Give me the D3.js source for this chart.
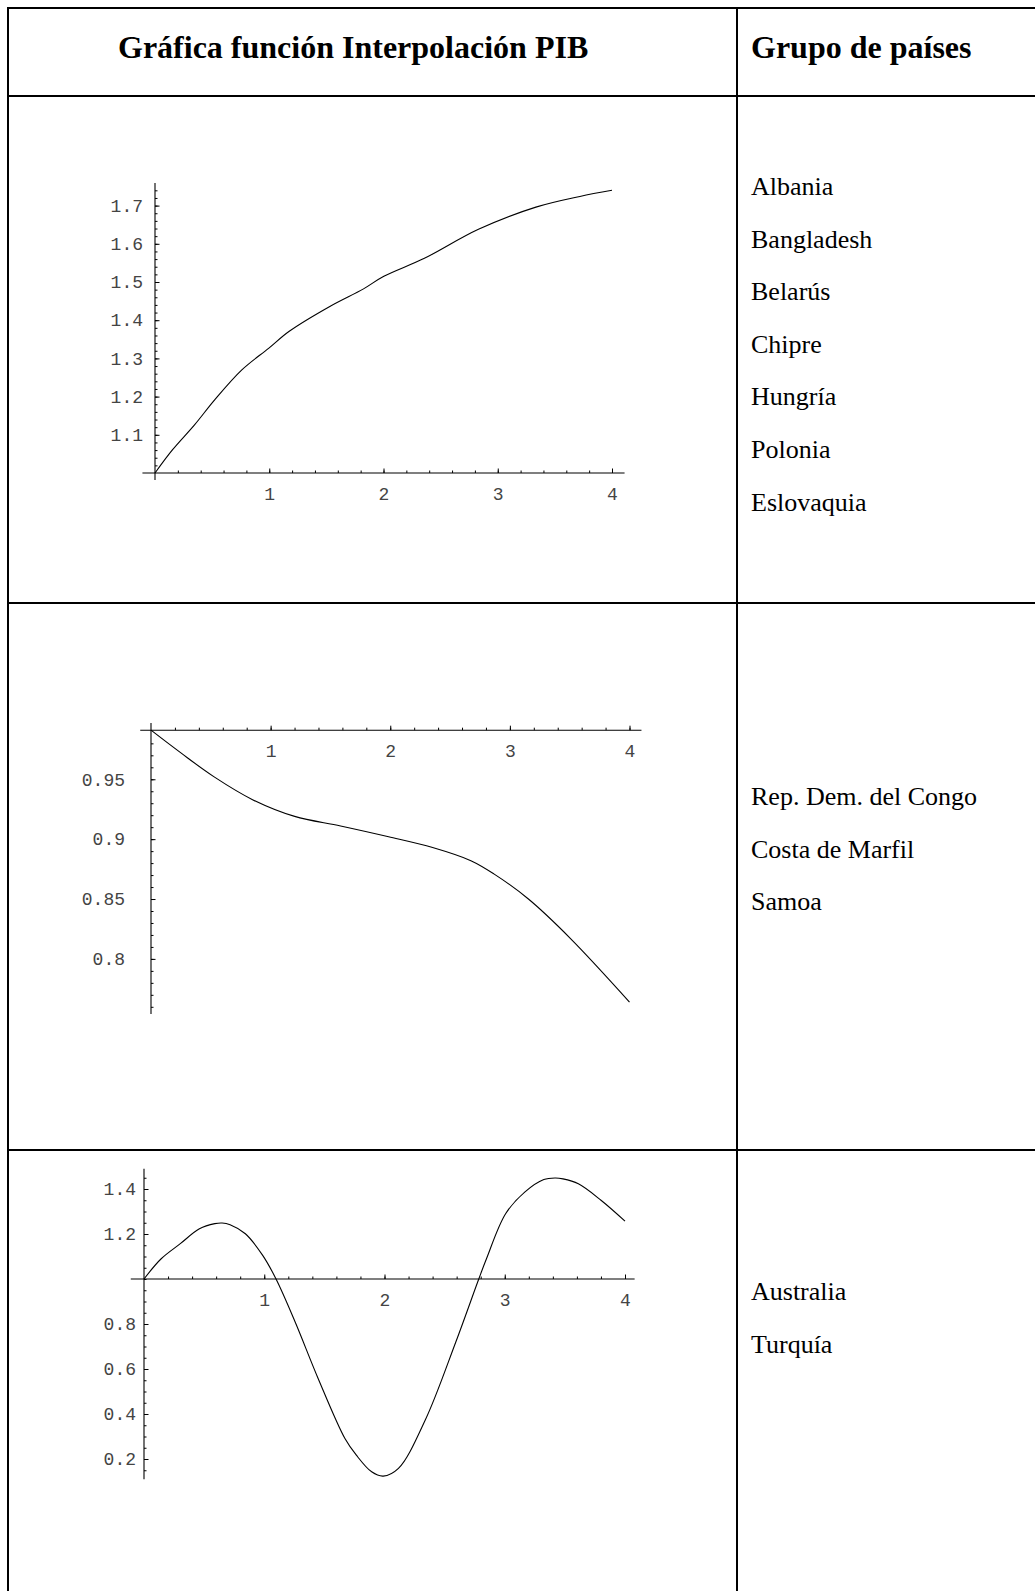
<!DOCTYPE html>
<html>
<head>
<meta charset="utf-8">
<script src="https://cdn.jsdelivr.net/npm/d3@7"></script>
<style>
  body { margin: 0; background: #fff; }
  .cell-text { font-family: "Liberation Serif", "Times New Roman", serif; font-size: 26px; fill: #000; }
  .head-text { font-family: "Liberation Serif", "Times New Roman", serif; font-size: 32px; font-weight: bold; fill: #000; }
  .tick text { font-family: "Liberation Mono", "Courier New", monospace; font-size: 18px; fill: #444; }
  .tick line { stroke: #000; stroke-width: 1; }
  .curve { fill: none; stroke: #000; stroke-width: 1.1; }
  .axis-line { stroke: #000; stroke-width: 1.1; }
  .grid-line { stroke: #000; stroke-width: 2; }
</style>
</head>
<body>
<div id="chart"></div>
<script>
// table text
var headers = ["Gráfica función Interpolación PIB", "Grupo de países"];
var group1 = ["Albania", "Bangladesh", "Belarús", "Chipre", "Hungría", "Polonia", "Eslovaquia"];
var group2 = ["Rep. Dem. del Congo", "Costa de Marfil", "Samoa"];
var group3 = ["Australia", "Turquía"];

// interpolated PIB curves
var curve1X = [0, 0.154, 0.346, 0.524, 0.760, 0.997, 1.175, 1.530, 1.825, 2.003, 2.358, 2.831, 3.334, 3.719, 4.0];
var curve1Y = [1.0, 1.061, 1.126, 1.192, 1.270, 1.327, 1.371, 1.436, 1.482, 1.515, 1.562, 1.638, 1.696, 1.724, 1.740];

var curve2X = [0, 0.25, 0.528, 0.849, 1.201, 1.585, 1.986, 2.354, 2.674, 2.866, 3.155, 3.507, 4.0];
var curve2Y = [0.991, 0.972, 0.952, 0.933, 0.919, 0.911, 0.902, 0.893, 0.882, 0.871, 0.850, 0.817, 0.764];

var curve3X = [0, 0.143, 0.302, 0.461, 0.589, 0.650, 0.716, 0.843, 0.987, 1.098, 1.257, 1.448, 1.671, 1.766, 1.893, 1.989, 2.116, 2.339, 2.593, 2.784, 2.848, 3.007, 3.166, 3.325, 3.420, 3.484, 3.612, 3.803, 4.0];
var curve3Y = [1.0, 1.090, 1.157, 1.223, 1.246, 1.249, 1.241, 1.201, 1.105, 1.0, 0.809, 0.558, 0.291, 0.217, 0.143, 0.124, 0.158, 0.373, 0.720, 1.0, 1.090, 1.290, 1.386, 1.442, 1.449, 1.445, 1.423, 1.349, 1.257];

// tick labels
var xTicks = [1, 2, 3, 4];
var yTicks1 = [1.1, 1.2, 1.3, 1.4, 1.5, 1.6, 1.7];
var yTicks2 = [0.8, 0.85, 0.9, 0.95];
var yTicks3 = [0.2, 0.4, 0.6, 0.8, 1.2, 1.4];

var width = 1035, height = 1591;

var svg = d3.select("#chart")
    .append("svg")
    .attr("width", width)
    .attr("height", height);

// table grid
var colX = 737;
var rowsY = [96, 603, 1150];
svg.append("line").attr("class", "grid-line").attr("x1", 7).attr("x2", width).attr("y1", 8).attr("y2", 8);
svg.append("line").attr("class", "grid-line").attr("x1", 8).attr("x2", 8).attr("y1", 7).attr("y2", height);
svg.append("line").attr("class", "grid-line").attr("x1", colX).attr("x2", colX).attr("y1", 7).attr("y2", height);
rowsY.forEach(function(y) {
    svg.append("line").attr("class", "grid-line").attr("x1", 7).attr("x2", width).attr("y1", y).attr("y2", y);
});

// headers
svg.append("text").attr("class", "head-text").attr("x", 118).attr("y", 57.5).text(headers[0]);
svg.append("text").attr("class", "head-text").attr("x", 751).attr("y", 57.5).text(headers[1]);

// country lists
function countryList(names, firstBaseline) {
    svg.append("g").selectAll("text")
        .data(names)
        .enter().append("text")
        .attr("class", "cell-text")
        .attr("x", 751)
        .attr("y", function(d, i) { return firstBaseline + i * 52.6; })
        .text(function(d) { return d; });
}
countryList(group1, 195);
countryList(group2, 805);
countryList(group3, 1300);

// one Mathematica style plot
function drawPlot(cfg) {
    var x = d3.scaleLinear().domain([0, 4]).range(cfg.xRange);
    var y = d3.scaleLinear().domain(cfg.yDomain).range(cfg.yRange);
    var g = svg.append("g");
    var x0 = x(0), y0 = y(cfg.axisAt);

    // axis lines
    g.append("line").attr("class", "axis-line")
        .attr("x1", x(cfg.xExtent[0])).attr("x2", x(cfg.xExtent[1]))
        .attr("y1", y0).attr("y2", y0);
    g.append("line").attr("class", "axis-line")
        .attr("x1", x0).attr("x2", x0)
        .attr("y1", y(cfg.yExtent[0])).attr("y2", y(cfg.yExtent[1]));

    // minor ticks
    var xMinor = d3.axisBottom(x).tickValues(d3.range(0.2, 4.01, 0.2)).tickSizeInner(-2.5).tickSizeOuter(0).tickFormat("");
    g.append("g").attr("transform", "translate(0," + y0 + ")").call(xMinor).call(function(s) { s.select(".domain").remove(); });
    var yMinor = d3.axisLeft(y).tickValues(cfg.yMinor).tickSizeInner(-2.5).tickSizeOuter(0).tickFormat("");
    g.append("g").attr("transform", "translate(" + x0 + ",0)").call(yMinor).call(function(s) { s.select(".domain").remove(); });

    // major ticks with labels
    var xMajor = d3.axisBottom(x).tickValues(xTicks).tickSizeInner(-4.5).tickSizeOuter(0).tickPadding(14).tickFormat(d3.format("d"));
    g.append("g").attr("transform", "translate(0," + y0 + ")").call(xMajor).call(function(s) { s.select(".domain").remove(); });
    var yMajor = d3.axisLeft(y).tickValues(cfg.yTicks).tickSizeInner(-4.5).tickSizeOuter(0).tickPadding(cfg.yPad).tickFormat(function(d) { return String(d); });
    g.append("g").attr("transform", "translate(" + x0 + ",0)").call(yMajor).call(function(s) { s.select(".domain").remove(); });

    // curve
    var pts = cfg.xs.map(function(v, i) { return [v, cfg.ys[i]]; });
    var line = d3.line()
        .x(function(d) { return x(d[0]); })
        .y(function(d) { return y(d[1]); })
        .curve(d3.curveCatmullRom.alpha(0.5));
    g.append("path").attr("class", "curve").attr("d", line(pts));
}

drawPlot({
    xRange: [155, 612], yDomain: [1, 1.7], yRange: [473, 205.6], axisAt: 1,
    xExtent: [-0.11, 4.11], yExtent: [0.982, 1.759],
    yTicks: yTicks1, yMinor: d3.range(1.02, 1.76, 0.02), yPad: 12,
    xs: curve1X, ys: curve1Y
});
drawPlot({
    xRange: [151, 629.5], yDomain: [1, 0.8], yRange: [719.4, 958.9], axisAt: curve2Y[0],
    xExtent: [-0.09, 4.1], yExtent: [0.997, 0.754],
    yTicks: yTicks2, yMinor: d3.range(0.76, 0.985, 0.01), yPad: 26,
    xs: curve2X, ys: curve2Y
});
drawPlot({
    xRange: [144, 625], yDomain: [1, 0.2], yRange: [1279, 1459], axisAt: 1,
    xExtent: [-0.11, 4.08], yExtent: [1.49, 0.11],
    yTicks: yTicks3, yMinor: d3.range(0.15, 1.49, 0.05), yPad: 8,
    xs: curve3X, ys: curve3Y
});
</script>
</body>
</html>
